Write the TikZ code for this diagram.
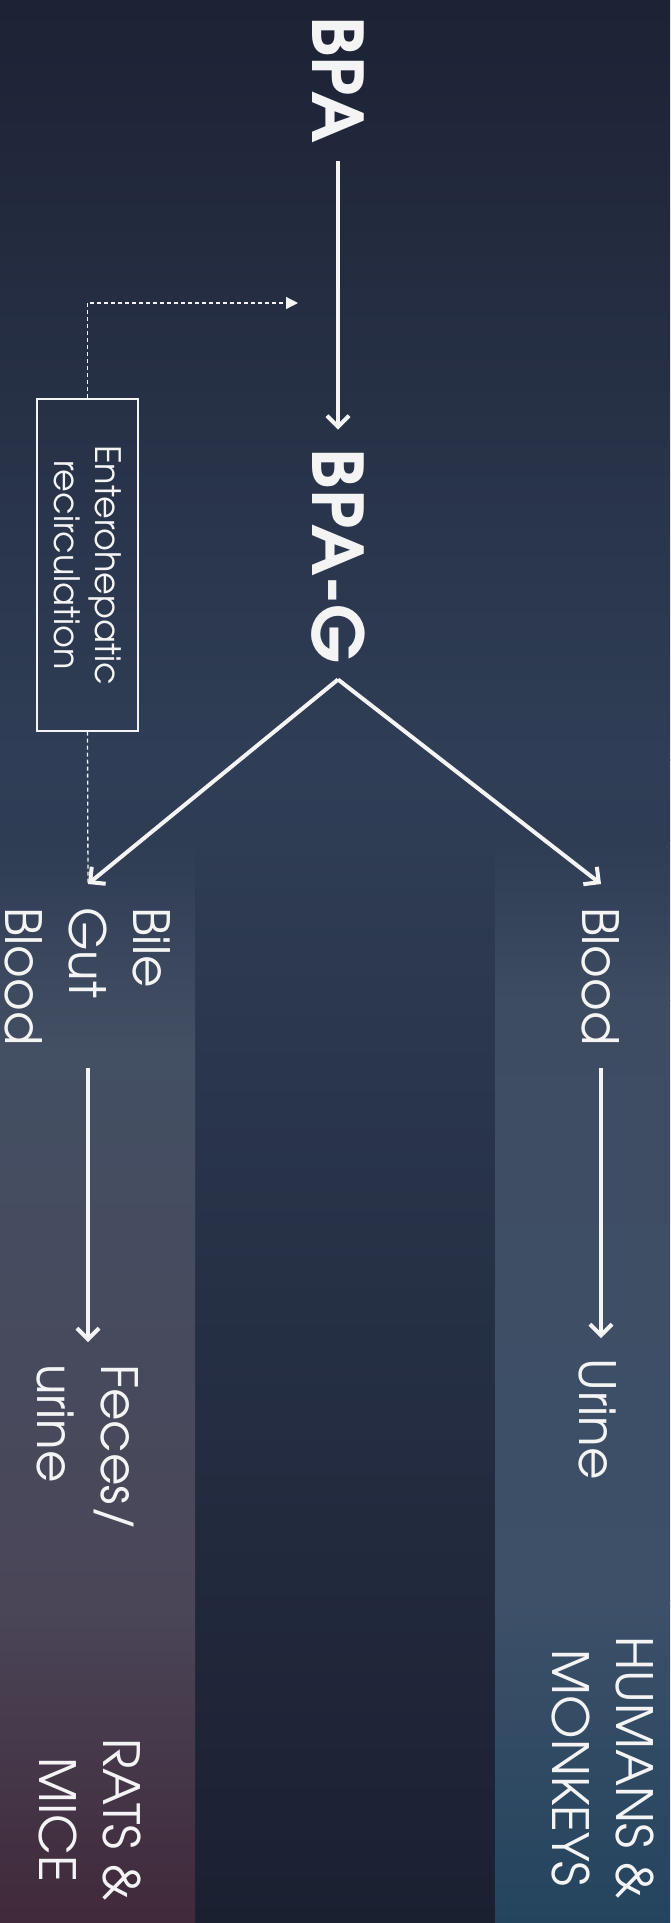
\documentclass[tikz,border=0pt]{standalone}
\usepackage{fontspec}
\setmainfont{texgyreadventor}[Extension=.otf, UprightFont=*-regular, BoldFont=*-bold]
\usetikzlibrary{arrows.meta}
\definecolor{bgTop}{HTML}{1D2234}
\definecolor{bgMid}{HTML}{2F3E56}
\definecolor{bgBot}{HTML}{1B2031}
\definecolor{lsA}{HTML}{2E3C54}
\definecolor{lsB}{HTML}{434F63}
\definecolor{lsC}{HTML}{4A4658}
\definecolor{lsD}{HTML}{40293A}
\definecolor{rsB}{HTML}{3E4C62}
\definecolor{rsC}{HTML}{3D5068}
\definecolor{rsD}{HTML}{24445E}
\definecolor{ink}{HTML}{F4F4F4}
\tikzset{
  vlabel/.style={rotate=-90, inner sep=0pt, text=ink, font=\fontsize{50}{64}\selectfont},
  bigbold/.style={rotate=-90, inner sep=0pt, text=ink, font=\fontsize{70}{74}\selectfont\bfseries},
  mainarrow/.style={draw=ink, line width=4pt, -{Straight Barb[length=11pt,width=22pt]}},
  dashline/.style={draw=ink, line width=1.3pt, dash pattern=on 4pt off 3pt},
  ebox/.style={rotate=-90, draw=ink, line width=1.3pt, text=ink, align=center,
     minimum width=332pt, minimum height=101pt, inner sep=0pt,
     font=\fontsize{35}{41}\selectfont},
}
\begin{document}
\begin{tikzpicture}[x=1pt,y=-1pt]
\useasboundingbox (0,0) rectangle (670,1923);
% background
\shade[top color=bgTop, bottom color=bgMid] (0,0) rectangle (670,760);
\shade[top color=bgMid, bottom color=lsA] (0,759) rectangle (670,841);
\shade[top color=lsA, bottom color=bgBot] (194,840) rectangle (496,1923);
% left stripe
\shade[top color=lsA, bottom color=lsB] (0,840) rectangle (195,1051);
\shade[top color=lsB, bottom color=lsC] (0,1050) rectangle (195,1601);
\shade[top color=lsC, bottom color=lsD] (0,1600) rectangle (195,1923);
% right stripe
\shade[top color=lsA, bottom color=rsB] (495,840) rectangle (670,1001);
\shade[top color=rsB, bottom color=rsC] (495,1000) rectangle (670,1601);
\shade[top color=rsC, bottom color=rsD] (495,1600) rectangle (670,1923);

% nodes
\node[bigbold] (BPA) at (338,80) {BPA};
\node[bigbold] (BPAG) at (338,556) {BPA-G};
\node[ebox] (ER) at (87.5,565) {Enterohepatic\\recirculation};
\node[vlabel, align=left, anchor=north west] (BGB) at (171,907) {Bile\\Gut\\Blood};
\node[vlabel, align=left, anchor=north west] (BL) at (620,907) {Blood};
\node[vlabel, align=left, anchor=north west] (FU) at (139,1364) {Feces/\\urine};
\node[vlabel, align=left, anchor=north west] (UR) at (617,1358) {Urine};
\node[vlabel, align=center, anchor=north] (RM) at (141,1820) {RATS \&\\MICE};
\node[vlabel, align=center, anchor=north] (HM) at (654,1768) {HUMANS \&\\MONKEYS};
\coordinate (recirc) at (298,303);
\coordinate (ehend) at (88,883);

% connectors
\draw[mainarrow, shorten <=17pt, shorten >=19pt] (BPA.east) -- (BPAG.west);
\draw[mainarrow] ([yshift=-16pt]BPAG.east) -- ([yshift=23pt]BGB.west);
\draw[mainarrow] ([yshift=-16pt]BPAG.east) -- ([yshift=23pt]BL.west);
\draw[mainarrow, shorten <=22pt, shorten >=22pt] (BGB.east) -- (BGB.east |- FU.west);
\draw[mainarrow, shorten <=22pt, shorten >=20pt] (BL.east) -- (BL.east |- UR.west);
\draw[dashline, -{Triangle[length=12pt,width=12pt]}] (ER.west) |- (recirc);
\draw[dashline] (ER.east) -- (ehend);
\end{tikzpicture}
\end{document}
